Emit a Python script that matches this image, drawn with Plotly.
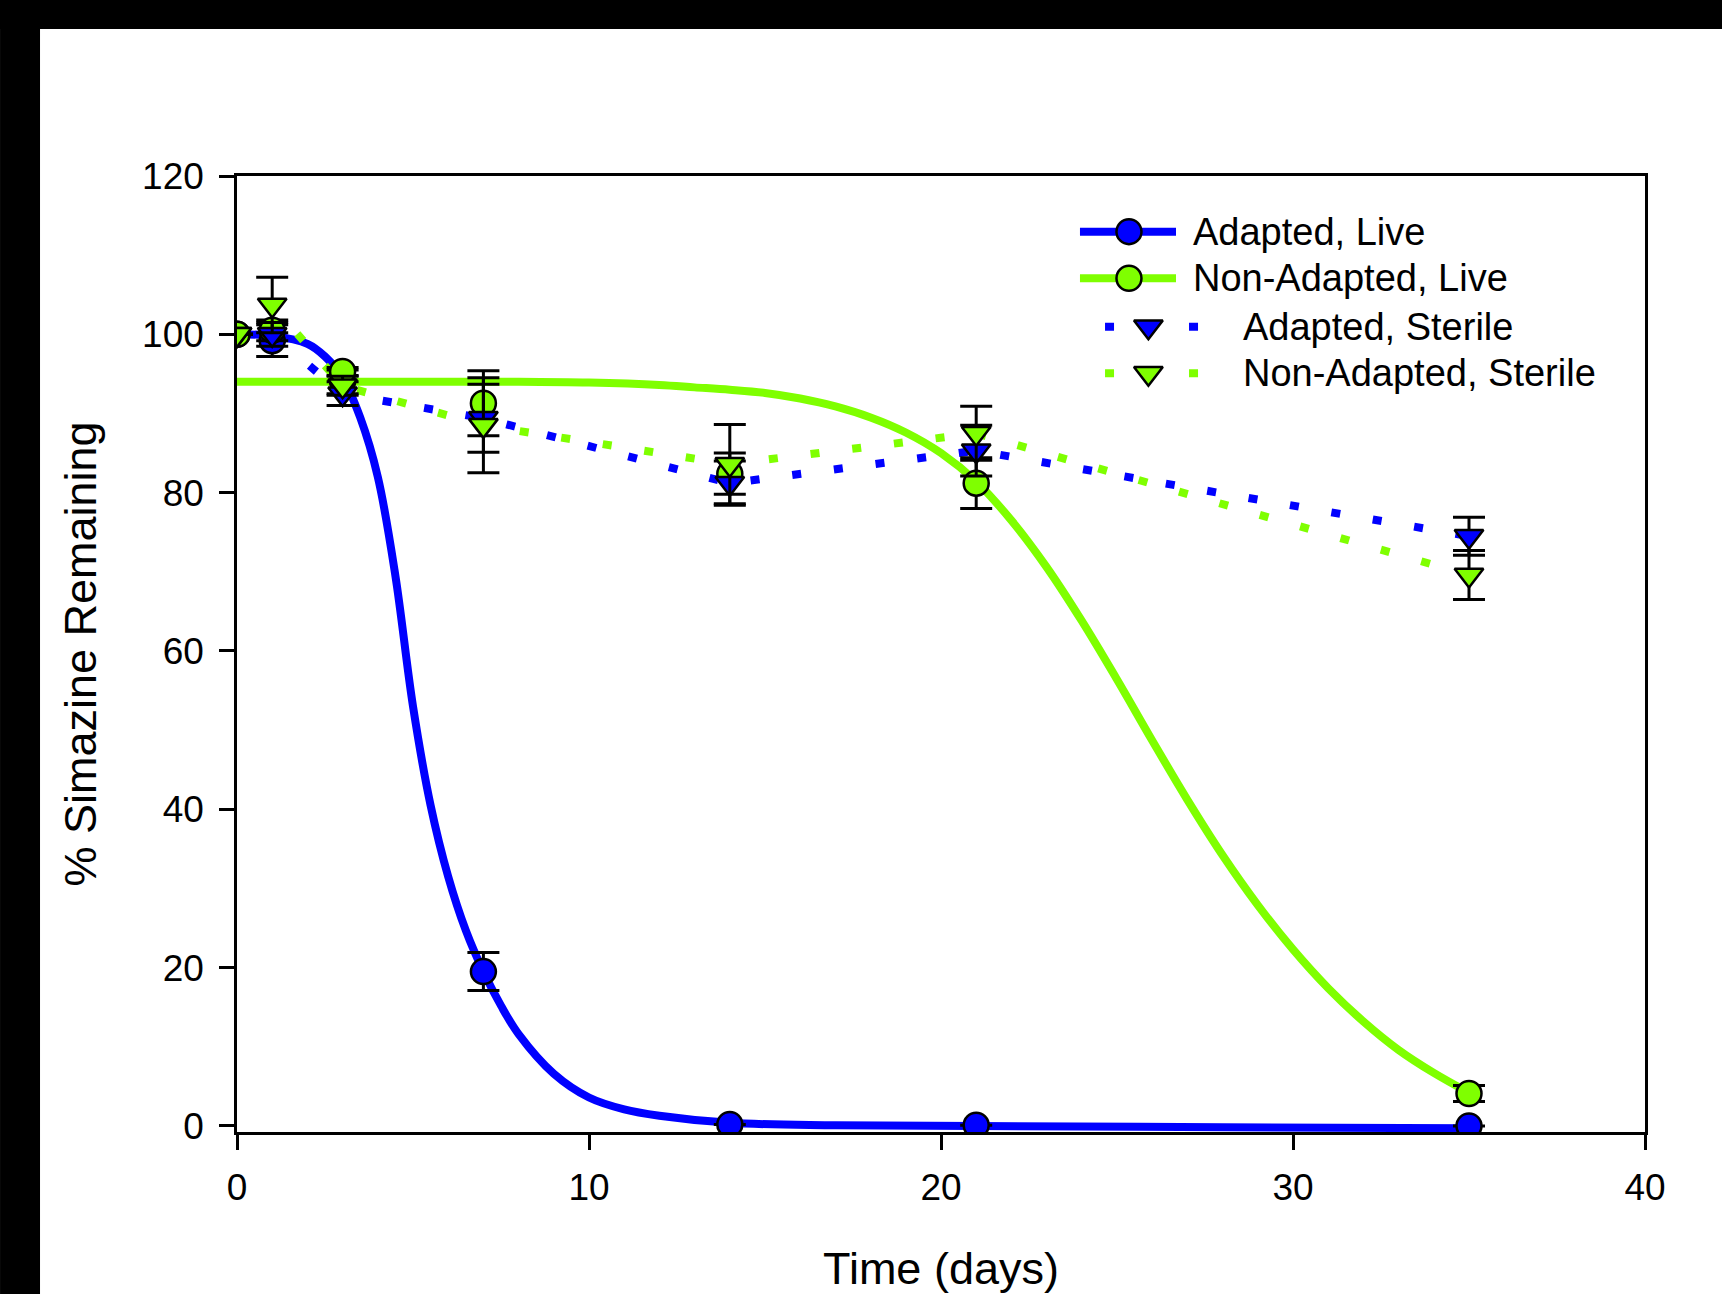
import plotly.graph_objects as go

# sampling days
days = [0, 1, 3, 7, 14, 21, 35]

# % simazine remaining (means) and error bars
adapted_live = [100.0, 99.2, 94.0, 19.5, 0.2, 0.1, 0.0]
adapted_live_err = [None, 2.0, 1.5, 2.4, None, None, None]
nonadapted_live = [100.0, 100.5, 95.3, 91.3, 82.4, 81.2, 4.1]
nonadapted_live_err = [None, 1.3, 0.5, 4.1, 2.6, 3.2, 1.0]
adapted_sterile = [100.0, 100.0, 92.5, 89.4, 81.2, 85.3, 74.5]
adapted_sterile_err = [None, 1.5, 1.5, 4.3, 2.8, 3.2, 2.4]
nonadapted_sterile = [100.0, 103.7, 93.5, 88.5, 83.6, 87.5, 69.6]
nonadapted_sterile_err = [None, 3.5, 1.2, 6.0, 5.0, 3.4, 3.1]

# fitted curves for the live series
adapted_fit_t = [0, 1, 2, 2.5, 3, 3.5, 4, 4.5, 5, 5.5, 6, 6.5, 7, 7.5, 8, 9, 10, 11, 12, 14, 17, 21, 28, 35]
adapted_fit_v = [100, 99.8, 98.8, 97.2, 94.5, 89.5, 82, 69.5, 53, 40.5, 31.5, 24.7, 19.5, 15.2, 11.6, 6.6,
                 3.6, 2.1, 1.3, 0.4, 0.1, 0, -0.15, -0.3]
nonadapted_fit_t = [0, 4, 8, 10, 12, 13, 14, 15, 16, 17, 18, 19, 20, 21, 22, 23, 24, 25, 26, 27, 28, 29,
                    30, 31, 32, 33, 34, 35]
nonadapted_fit_v = [94.0, 94.0, 94.0, 93.9, 93.6, 93.3, 93.0, 92.6, 91.9, 90.9, 89.5, 87.6, 85.0, 81.4,
                    76.5, 70.6, 63.8, 56.4, 48.7, 41.2, 34.2, 27.9, 22.3, 17.4, 13.2, 9.6, 6.7, 4.2]

names = ["Adapted, Live", "Non-Adapted, Live", "Adapted, Sterile", "Non-Adapted, Sterile"]

BLUE = "#0000ff"
GREEN = "#7fff00"
FONT = "Liberation Sans, Arial, sans-serif"
DOTS = "9px,33px"

fig = go.Figure()

# curves / connecting lines first, markers on top
fig.add_trace(go.Scatter(x=nonadapted_fit_t, y=nonadapted_fit_v, mode="lines",
                         line=dict(color=GREEN, width=8, shape="spline", smoothing=1),
                         showlegend=False, hoverinfo="skip"))
fig.add_trace(go.Scatter(x=adapted_fit_t, y=adapted_fit_v, mode="lines",
                         line=dict(color=BLUE, width=8, shape="spline", smoothing=1),
                         showlegend=False, hoverinfo="skip"))
fig.add_trace(go.Scatter(x=days, y=nonadapted_sterile, mode="lines",
                         line=dict(color=GREEN, width=8, dash=DOTS),
                         showlegend=False, hoverinfo="skip"))
fig.add_trace(go.Scatter(x=days, y=adapted_sterile, mode="lines",
                         line=dict(color=BLUE, width=8, dash=DOTS),
                         showlegend=False, hoverinfo="skip"))

series = [
    (adapted_live, adapted_live_err, BLUE, "circle", 25),
    (nonadapted_live, nonadapted_live_err, GREEN, "circle", 25),
    (adapted_sterile, adapted_sterile_err, BLUE, "triangle-down", 25),
    (nonadapted_sterile, nonadapted_sterile_err, GREEN, "triangle-down", 25),
]
for name, (vals, errs, col, sym, sz) in zip(names, series):
    fig.add_trace(go.Scatter(
        x=days, y=vals, mode="markers", name=name, showlegend=False,
        marker=dict(color=col, symbol=sym, size=sz, line=dict(color="black", width=2.5)),
        error_y=dict(type="data", array=errs, visible=True, color="black", thickness=3, width=16),
    ))

# hand-made legend drawn on an invisible overlay axis (0..1 over the plot area)
rows_y = [0.9418, 0.893, 0.8424, 0.7936]
for i, (vals, errs, col, sym, sz) in enumerate(series):
    live = i < 2
    x0, x1, xm = (0.5987, 0.6669, 0.6335) if live else (0.6165, 0.6832, 0.6473)
    line = dict(color=col, width=8) if live else dict(color=col, width=8, dash=DOTS)
    fig.add_trace(go.Scatter(x=[x0, x1], y=[rows_y[i]] * 2, mode="lines", line=line,
                             xaxis="x2", yaxis="y2", showlegend=False, hoverinfo="skip"))
    fig.add_trace(go.Scatter(x=[xm], y=[rows_y[i]], mode="markers",
                             marker=dict(color=col, symbol=sym, size=sz,
                                         line=dict(color="black", width=2.5)),
                             xaxis="x2", yaxis="y2", showlegend=False, hoverinfo="skip"))
    fig.add_annotation(x=0.6779 if live else 0.7132, y=rows_y[i], xref="paper", yref="paper",
                       text=names[i], showarrow=False, xanchor="left", yanchor="middle",
                       font=dict(family=FONT, size=38, color="black"))

axis_common = dict(showgrid=False, zeroline=False, showline=True, linecolor="black", linewidth=2.5,
                   mirror=True, ticks="outside", ticklen=15, tickwidth=2.5, tickcolor="black",
                   automargin=False, tickfont=dict(family=FONT, size=37, color="black"))

fig.update_layout(
    width=1722, height=1294,
    margin=dict(l=237, r=77, t=176, b=162),
    paper_bgcolor="white", plot_bgcolor="white",
    showlegend=False,
    xaxis=dict(range=[0, 40], tick0=0, dtick=10, ticklabelstandoff=6,
               title=dict(text="Time (days)", font=dict(family=FONT, size=45, color="black"),
                          standoff=47),
               **axis_common),
    yaxis=dict(range=[-0.76, 120], tick0=0, dtick=20, ticklabelstandoff=8,
               title=dict(text="% Simazine Remaining", font=dict(family=FONT, size=45, color="black"),
                          standoff=32),
               **axis_common),
    xaxis2=dict(overlaying="x", anchor="y2", range=[0, 1], visible=False),
    yaxis2=dict(overlaying="y", anchor="x2", range=[0, 1], visible=False),
    shapes=[
        dict(type="rect", xref="paper", yref="paper", x0=-0.1683, x1=-0.1399, y0=-0.1695, y1=1.1841,
             fillcolor="black", line=dict(width=0), layer="above"),
        dict(type="rect", xref="paper", yref="paper", x0=-0.1683, x1=1.0547, y0=1.1538, y1=1.1841,
             fillcolor="black", line=dict(width=0), layer="above"),
    ],
)

fig.write_html("out.html", config={"displayModeBar": False},
               post_script="document.body.style.margin='0';document.body.style.overflow='hidden';")
